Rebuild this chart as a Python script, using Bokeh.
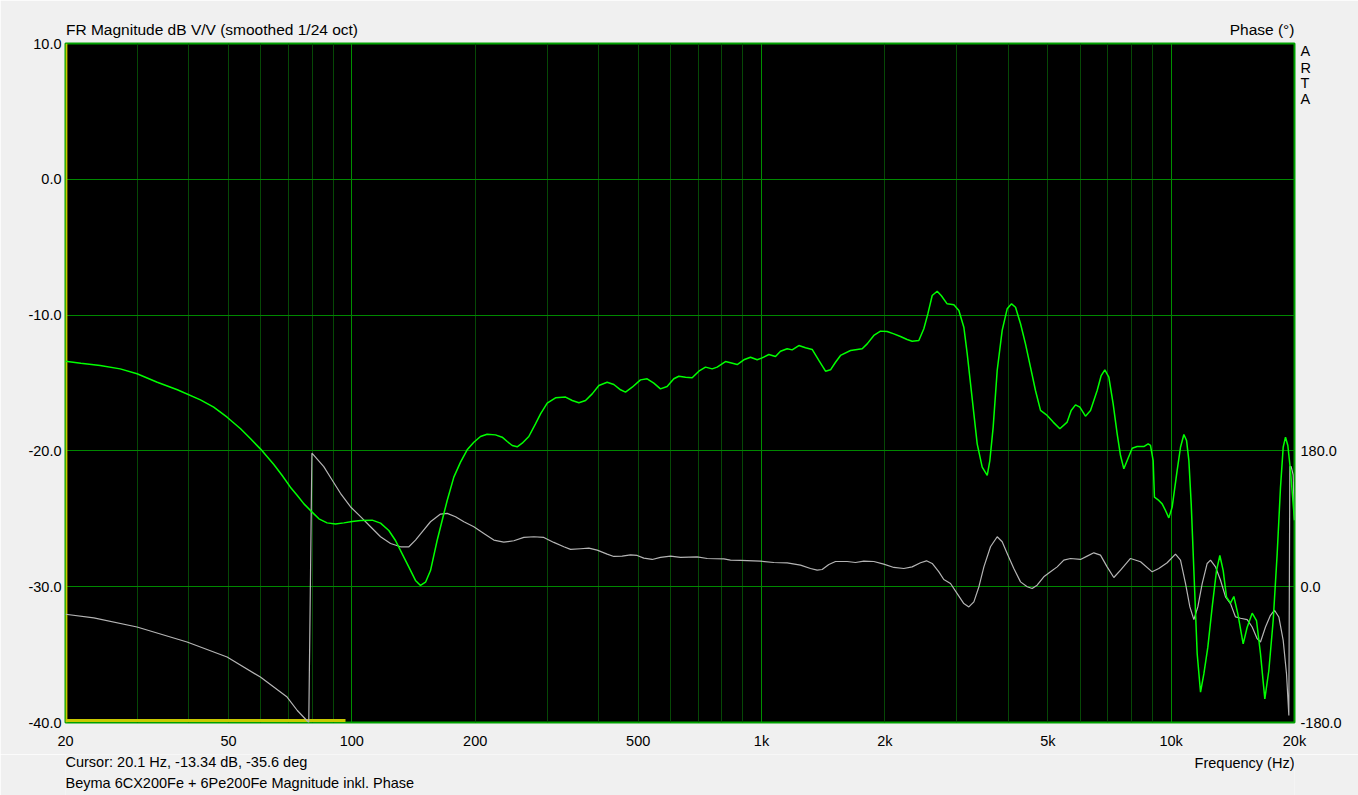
from bokeh.plotting import figure
from bokeh.layouts import column
from bokeh.models import Range1d, LinearAxis, LinearScale, FixedTicker, NumeralTickFormatter
from bokeh.core.properties import value
from bokeh.embed import file_html
from bokeh.resources import INLINE

# magnitude, dB V/V (smoothed 1/24 oct)
mag_freq = [20, 21.8, 24.3, 27.2, 29.9, 33.5, 37.5, 42.7, 46.0, 49.6, 53.5, 56.6, 59.8, 64.5, 67.6,
            70.8, 73.6, 76.4, 80.0, 83.1, 87.0, 91.2, 95.6, 100.2, 105, 112.1, 117.5, 123.1, 127.8,
            132.7, 137.8, 143.0, 147.1, 151.3, 155.6, 161.5, 167.7, 170.9, 177.4, 184.2, 191.2,
            198.5, 206.1, 213.9, 224.2, 232.8, 239.5, 246.3, 253.3, 260.5, 270.4, 280.7, 288.8,
            299.8, 314.2, 332.4, 345.1, 358.3, 371.9, 386.1, 400.9, 420.0, 436.0, 452.7, 465.6,
            483.4, 506.5, 525.8, 545.9, 566.7, 588.3, 610.9, 628.4, 652.4, 677.2, 703.1, 730.0,
            757.9, 779.4, 816.6, 840.1, 872.2, 905.5, 940.0, 976.0, 1003.8, 1042, 1081.8, 1112.6,
            1155.2, 1188, 1233.4, 1280.6, 1329.4, 1380.2, 1433, 1473.8, 1515.8, 1559, 1649, 1761,
            1811, 1880, 1952, 2026, 2104, 2184, 2267, 2332, 2421, 2490, 2547, 2610, 2684, 2745,
            2839, 2948, 3032, 3118, 3178, 3238, 3299, 3361, 3457, 3556, 3609, 3677, 3761, 3868,
            3978, 4077, 4169, 4288, 4409, 4535, 4664, 4798, 4980, 5152, 5349, 5573, 5700, 5841,
            5985, 6177, 6354, 6597, 6748, 6887, 7044, 7217, 7382, 7522, 7664, 7809, 8032, 8260,
            8574, 8786, 8902, 9036, 9102, 9328, 9506, 9686, 9868, 10056, 10342, 10538, 10740,
            10902, 11046, 11192, 11360, 11574, 11794, 12016, 12288, 12590, 12902, 13146, 13396,
            13648, 13958, 14222, 14546, 14988, 15330, 15766, 16154, 16520, 16928, 17314, 17742,
            18144, 18488, 18768, 19014, 19264, 19554, 19850, 20000]
mag_db = [-13.39, -13.54, -13.71, -13.96, -14.32, -14.94, -15.50, -16.24, -16.78, -17.52, -18.37,
          -19.11, -19.85, -21.0, -21.81, -22.67, -23.28, -23.9, -24.51, -25.0, -25.3, -25.39, -25.3,
          -25.2, -25.12, -25.1, -25.32, -25.86, -26.6, -27.58, -28.56, -29.54, -29.91, -29.67,
          -28.81, -26.6, -24.63, -23.65, -21.93, -20.83, -19.92, -19.36, -18.94, -18.77, -18.82,
          -18.99, -19.31, -19.6, -19.7, -19.43, -18.94, -18.01, -17.27, -16.48, -16.09, -16.04,
          -16.29, -16.46, -16.29, -15.8, -15.18, -14.94, -15.11, -15.5, -15.67, -15.31, -14.77,
          -14.69, -15.01, -15.43, -15.26, -14.69, -14.5, -14.57, -14.62, -14.13, -13.83, -13.96,
          -13.83, -13.42, -13.51, -13.64, -13.29, -13.1, -13.29, -13.15, -12.9, -13.05, -12.66,
          -12.48, -12.56, -12.24, -12.41, -12.53, -13.34, -14.13, -14.03, -13.47, -12.97, -12.61,
          -12.48, -12.12, -11.5, -11.18, -11.21, -11.38, -11.58, -11.8, -11.92, -11.87, -11.01,
          -9.91, -8.56, -8.24, -8.56, -9.17, -9.24, -9.66, -10.89, -12.85, -15.06, -17.27, -19.48,
          -21.2, -21.81, -20.71, -18.25, -14.08, -11.13, -9.54, -9.17, -9.42, -10.64, -12.12,
          -13.83, -15.55, -17.02, -17.39, -17.88, -18.37, -17.88, -17.02, -16.61, -16.78, -17.44,
          -17.02, -15.55, -14.45, -14.03, -14.57, -16.53, -18.74, -20.34, -21.32, -20.71, -19.8,
          -19.68, -19.68, -19.48, -19.6, -20.71, -23.41, -23.65, -23.9, -24.39, -24.93, -24.14,
          -21.44, -19.73, -18.79, -19.23, -20.71, -23.9, -28.81, -34.94, -37.77, -36.42, -34.45,
          -31.51, -28.81, -27.7, -28.81, -30.77, -31.21, -30.72, -32.0, -34.21, -32.98, -31.95,
          -32.49, -34.94, -38.26, -36.17, -32.49, -27.58, -22.67, -19.73, -18.99, -19.6, -21.44,
          -23.9, -25.12]

# phase in degrees, wrapped to +-180
ph_freq = [20, 23.45, 29.9, 39.6, 49.6, 59.8, 69.5, 73.6, 78.5, 79.9, 85.4, 89.5, 93.8, 99.2, 105,
           111.1, 117.5, 124.3, 131.5, 137.8, 143.0, 148.5, 155.6, 164.6, 170.9, 179.1, 187.7,
           198.5, 210.0, 222.1, 234.9, 248.6, 262.9, 278.2, 294.2, 311.2, 329.2, 341.8, 361.6,
           378.9, 397.1, 420.0, 436.0, 457, 478.8, 497.2, 516, 541, 566.7, 599.7, 634.2, 696.7,
           737, 809, 840.1, 888.6, 994, 1071.6, 1155.2, 1245, 1317, 1367, 1406, 1460, 1515.8,
           1618, 1696, 1777, 1880, 1988, 2104, 2225, 2332, 2444, 2528, 2610, 2710, 2786, 2893,
           3004, 3118, 3207, 3299, 3394, 3490, 3622, 3761, 3868, 3978, 4130, 4288, 4452, 4578,
           4707, 4887, 5075, 5269, 5469, 5678, 6007, 6236, 6474, 6721, 6977, 7244, 7522, 7957,
           8418, 8986, 9328, 9777, 10244, 10538, 10841, 11108, 11360, 11616, 11904, 12242, 12474,
           12830, 13196, 13572, 13958, 14356, 14768, 15330, 15766, 16212, 16520, 16990, 17474,
           17872, 18314, 18768, 19122, 19374, 19482, 19630, 19850, 20000]
ph_deg = [-36.5, -41.4, -53.4, -73.3, -93.2, -119.8, -146.3, -164.1, -180, 177, 159.2, 141.5, 123.8,
          106.0, 92.8, 79.5, 66.2, 57.3, 52.9, 52.9, 61.8, 72.8, 86.1, 96.3, 97.2, 92.8, 86.1, 79.5,
          70.6, 61.8, 59.1, 60.9, 65.3, 66.2, 65.3, 58.7, 52.9, 49.4, 50.3, 51.1, 48.5, 43.2, 40.1,
          40.5, 42.3, 41.4, 37.9, 36.1, 38.8, 40.5, 38.8, 39.6, 37.4, 36.9, 35.2, 34.8, 33.9, 32.1,
          31.7, 28.6, 24.1, 21.9, 22.8, 29.5, 33.4, 33.4, 32.1, 33.9, 33.4, 29.9, 25.5, 24.1, 26.3,
          31.7, 34.3, 30.8, 19.7, 9.5, 4.2, -9.1, -22.4, -26.8, -20.1, 0.0, 26.3, 52.9, 66.2, 59.6,
          44.1, 24.1, 6.4, 0.0, -2.4, 2.0, 13.1, 19.7, 26.3, 35.2, 37.4, 36.1, 40.5, 44.9, 41.8,
          26.3, 12.2, 21.9, 37.4, 33.0, 19.7, 24.1, 31.7, 43.2, 35.2, 4.2, -26.8, -43.6, -26.8, 4.2,
          30.8, 35.2, 26.3, 8.6, -13.5, -22.4, -40.1, -41.8, -43.6, -53.4, -68.9, -73.3, -53.4,
          -37.9, -31.2, -40.1, -71.1, -115.3, -170.7, 159.2, 159.2, 148.1, 88.3]

# yellow marks: cursor at 20.1 Hz and the low band marker
cursor_freq = [20.1, 20.1]
cursor_db = [-40, 10]
band_freq = [20, 96.5]
band_db = [-39.85, -39.85]

freq_ticks = [20, 50, 100, 200, 500, 1000, 2000, 5000, 10000, 20000]
freq_labels = ["20", "50", "100", "200", "500", "1k", "2k", "5k", "10k", "20k"]
decade_lines = [100, 1000, 10000]
minor_lines = [30, 40, 50, 60, 70, 80, 90, 200, 300, 400, 500, 600, 700, 800, 900,
               2000, 3000, 4000, 5000, 6000, 7000, 8000, 9000]
db_ticks = [-40, -30, -20, -10, 0, 10]
phase_ticks = [-180, 0, 180]
arta_pos = [709.4, 687.5, 667.6, 645.8]   # stacked "ARTA" logo on the phase side
arta_chars = ["A", "R", "T", "A"]

title_text = "FR Magnitude dB V/V (smoothed 1/24 oct)"
phase_title = "Phase (°)"
xlabel = "Frequency (Hz)"
cursor_text = "Cursor: 20.1 Hz, -13.34 dB, -35.6 deg"
note_text = "Beyma 6CX200Fe + 6Pe200Fe Magnitude inkl. Phase"
# header texts sit on a top axis in frame pixels: left one flush with the frame's
# left edge, right one flush with its right edge (centres from the text widths)
header_pos = [146.5, 1196.6]

FONT = "Liberation Sans"
BG = "#F0F0F0"
W = 1358

# main plot
p = figure(width=W, height=754, x_axis_type="log",
           x_range=Range1d(20, 20000), y_range=Range1d(-40, 10),
           output_backend="svg", toolbar_location=None,
           min_border_left=65, min_border_right=64, min_border_top=43, min_border_bottom=32,
           background_fill_color="black", border_fill_color=BG)
p.extra_y_ranges = {"phase": Range1d(-180, 720)}
p.extra_x_ranges = {"px": Range1d(0, 1229)}
p.extra_x_scales = {"px": LinearScale()}
p.outline_line_color = "#00A000"
p.outline_line_width = 2

p.xgrid.ticker = FixedTicker(ticks=decade_lines, minor_ticks=minor_lines)
p.xgrid.grid_line_color = "#009000"
p.xgrid.minor_grid_line_color = "#064806"
p.ygrid.ticker = FixedTicker(ticks=db_ticks)
p.ygrid.grid_line_color = "#008800"

p.xaxis.ticker = FixedTicker(ticks=freq_ticks)
p.xaxis.major_label_overrides = {f: s for f, s in zip(freq_ticks, freq_labels)}
p.xaxis.major_label_standoff = 10
p.yaxis.ticker = FixedTicker(ticks=db_ticks)
p.yaxis.formatter = NumeralTickFormatter(format="0.0")
p.yaxis.major_label_standoff = 4

ph_axis = LinearAxis(y_range_name="phase", ticker=FixedTicker(ticks=phase_ticks + arta_pos),
                     formatter=NumeralTickFormatter(format="0.0"), major_label_standoff=6)
ph_axis.major_label_overrides = {v: c for v, c in zip(arta_pos, arta_chars)}
p.add_layout(ph_axis, "right")

head_axis = LinearAxis(x_range_name="px", ticker=FixedTicker(ticks=header_pos),
                       major_label_standoff=6)
head_axis.major_label_overrides = {header_pos[0]: title_text, header_pos[1]: phase_title}
p.add_layout(head_axis, "above")

for ax in p.axis:
    ax.axis_line_color = None
    ax.major_tick_line_color = None
    ax.minor_tick_line_color = None
    ax.major_tick_out = 0
    ax.major_tick_in = 0
    ax.minor_tick_out = 0
    ax.major_label_text_font = FONT
    ax.major_label_text_font_size = "14.5px"
    ax.major_label_text_color = "black"
head_axis.major_label_text_font_size = "15.5px"

p.line(band_freq, band_db, line_color="#C8C800", line_width=3)
p.line(cursor_freq, cursor_db, line_color="#C8C800", line_width=2)
p.line(ph_freq, ph_deg, y_range_name="phase", line_color="#B4B4B4", line_width=1.2)
p.line(mag_freq, mag_db, line_color="#00FF00", line_width=1.5)

# text rows below the plot, sharing its frequency axis
bot = figure(width=W, height=41, x_axis_type="log", x_range=p.x_range, y_range=Range1d(41, 0),
             output_backend="svg", toolbar_location=None,
             x_axis_location=None, y_axis_location=None,
             min_border_left=65, min_border_right=64, min_border_top=0, min_border_bottom=0,
             background_fill_color=BG, border_fill_color=BG)
bot.outline_line_color = None
bot.grid.visible = False


def txt(f, x, y, s, align="left"):
    f.text(x=[x], y=[y], text=[s], text_font=value(FONT), text_font_size="14.5px",
           text_align=align, text_baseline="middle", text_color="black")


txt(bot, 20, 7.5, cursor_text)
txt(bot, 20000, 8, xlabel, "right")
txt(bot, 20, 28.5, note_text)

layout = column(p, bot, spacing=0)
open("out.html", "w").write(file_html(layout, INLINE))
